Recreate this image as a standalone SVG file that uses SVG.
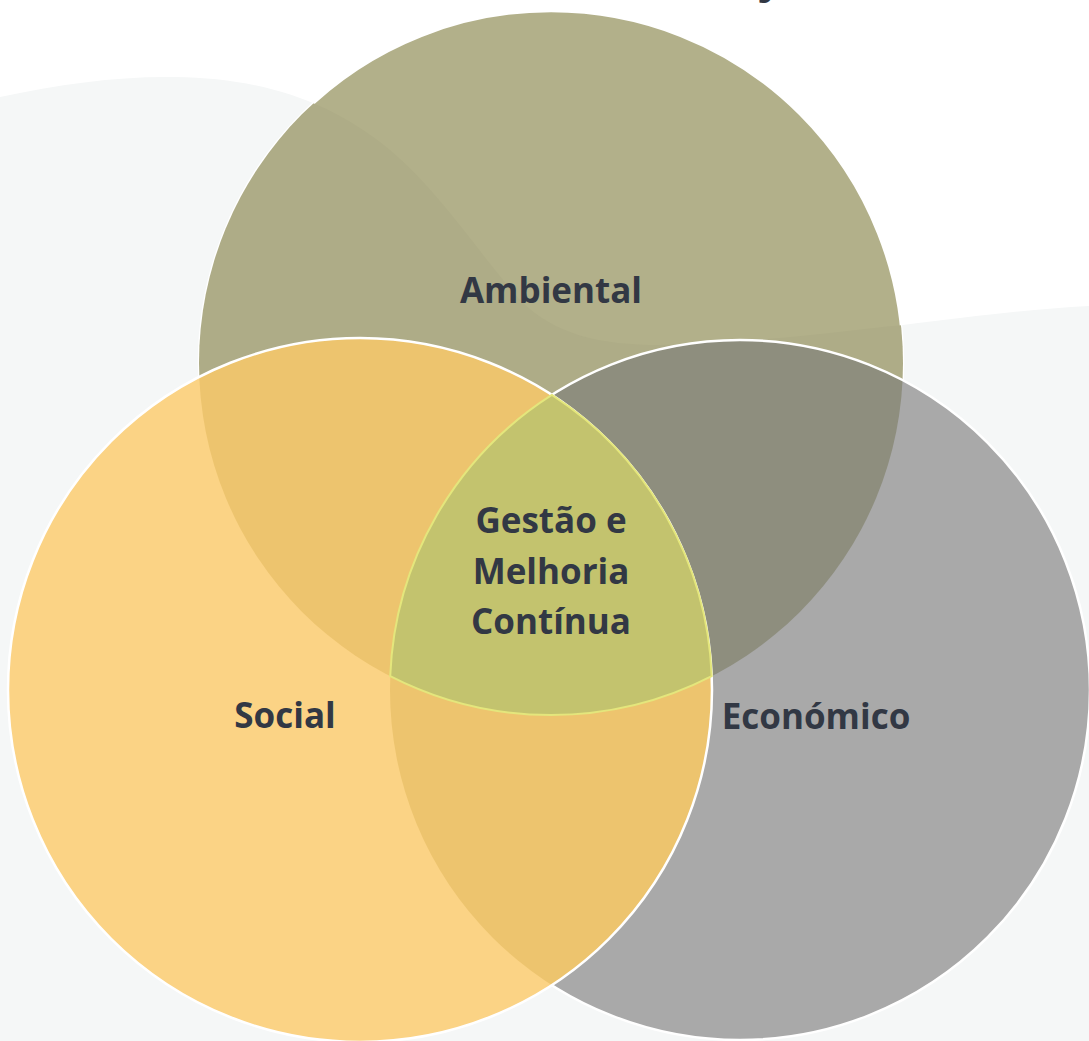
<svg xmlns="http://www.w3.org/2000/svg" width="1089" height="1041" viewBox="0 0 1089 1041">
  <style>
    .lbl { font-family: "Open Sans", "Liberation Sans", sans-serif; font-weight: 700; font-size: 35px; fill: #323844; text-anchor: middle; }
    .edge { fill: none; stroke: #ffffff; stroke-width: 2.5; }
  </style>
  <defs>
    <clipPath id="clipA"><circle cx="551" cy="363" r="352"/></clipPath>
    <clipPath id="clipE"><circle cx="740" cy="690" r="350"/></clipPath>
    <clipPath id="clipS"><circle cx="360" cy="690" r="352"/></clipPath>
  </defs>

  <!-- background -->
  <rect x="0" y="0" width="1089" height="1041" fill="#ffffff"/>
  <path id="bgwave" d="M0,97 C60,84 120,76 175,77 C260,78 330,100 390,150 C440,192 480,255 520,300 C555,335 600,345 660,345 C760,343 850,330 903,325 C970,317 1030,309 1089,306 L1089,1041 L0,1041 Z" fill="#f5f7f7"/>
  <text x="768" y="-6" font-family="Open Sans, Liberation Sans, sans-serif" font-weight="700" font-size="40" fill="#323844" text-anchor="middle">j</text>

  <!-- Ambiental -->
  <g id="node-ambiental">
    <circle cx="551" cy="363" r="352" fill="#b2b08a" stroke="#ffffff" stroke-width="2.5"/>
    <path d="M0,97 C60,84 120,76 175,77 C260,78 330,100 390,150 C440,192 480,255 520,300 C555,335 600,345 660,345 C760,343 850,330 903,325 C970,317 1030,309 1089,306 L1089,1041 L0,1041 Z" fill="#aeac87" clip-path="url(#clipA)"/>
    <text class="lbl" x="551" y="303">Ambiental</text>
  </g>

  <!-- Económico -->
  <g id="node-economico">
    <circle cx="740" cy="690" r="350" fill="#a9a9a9"/>
    <circle cx="551" cy="363" r="352" fill="#8e8e7e" clip-path="url(#clipE)"/>
    <circle class="edge" cx="740" cy="690" r="350"/>
    <text class="lbl" x="816" y="729">Económico</text>
  </g>

  <!-- Social -->
  <g id="node-social">
    <circle cx="360" cy="690" r="352" fill="#fbd385"/>
    <circle cx="551" cy="363" r="352" fill="#edc46e" clip-path="url(#clipS)"/>
    <circle cx="740" cy="690" r="350" fill="#edc46e" clip-path="url(#clipS)"/>
    <circle class="edge" cx="360" cy="690" r="352"/>
    <text class="lbl" x="285" y="728">Social</text>
  </g>

  <!-- Centre -->
  <g id="node-gestao">
    <path d="M551.9,394.9 A350,350 0 0 0 390.2,676.2 A352,352 0 0 0 711.7,676.2 A352,352 0 0 0 551.9,394.9 Z" fill="#c3c36e" stroke="#e4e67c" stroke-width="2"/>
    <text class="lbl" x="551" y="533">Gestão e</text>
    <text class="lbl" x="551" y="584">Melhoria</text>
    <text class="lbl" x="551" y="634">Contínua</text>
  </g>

  <g id="connectors"></g>
</svg>
